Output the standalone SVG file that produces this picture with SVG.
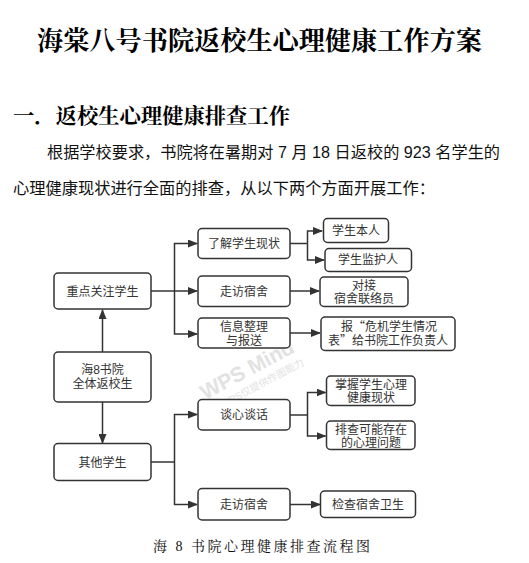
<svg xmlns="http://www.w3.org/2000/svg" width="529" height="563" viewBox="0 0 529 563">
<style>
.title{font-family:"Liberation Serif","Noto Serif CJK SC","Noto Sans CJK SC",serif;font-weight:bold;fill:#000}
.body{font-family:"Liberation Sans","Noto Sans CJK SC",sans-serif;font-size:16px;fill:#111}
.box{fill:#fff;stroke:#333;stroke-width:1.5}
.lbl{font-family:"Liberation Sans","Noto Sans CJK SC",sans-serif;font-size:12px;fill:#333;text-anchor:middle}
.q{font-family:"Noto Sans CJK SC",sans-serif}
.cn{fill:none;stroke:#333;stroke-width:1.5}
.wm{font-family:"Liberation Sans","Noto Sans CJK SC",sans-serif;fill:#e2e2e2}
.cap{font-family:"Liberation Serif","Noto Serif CJK SC","Noto Sans CJK SC",serif;font-size:14px;fill:#111}
</style>
<defs>
<marker id="arr" markerWidth="10" markerHeight="8" refX="9" refY="4" orient="auto" markerUnits="userSpaceOnUse">
<path d="M0,0 L10,4 L0,8 Z" fill="#333"/>
</marker>
</defs>
<rect width="529" height="563" fill="#fff"/>
<text class="title" x="37" y="50" font-size="26" textLength="445" lengthAdjust="spacingAndGlyphs">海棠八号书院返校生心理健康工作方案</text>
<text class="title" x="13" y="123" font-size="21" textLength="277" lengthAdjust="spacingAndGlyphs">一．返校生心理健康排查工作</text>
<text class="body" x="47" y="158" textLength="453" lengthAdjust="spacingAndGlyphs">根据学校要求，书院将在暑期对 7 月 18 日返校的 923 名学生的</text>
<text class="body" x="13" y="194" textLength="422" lengthAdjust="spacingAndGlyphs">心理健康现状进行全面的排查，从以下两个方面开展工作：</text>

<g id="watermark" class="wm">
<text x="205" y="400" font-size="21" font-weight="bold" transform="rotate(-28 205 400)">WPS Mind</text>
<text x="223" y="408" font-size="10" transform="rotate(-28 223 408)">WPS仅提供作图能力</text>
</g>

<g id="connectors">
<path class="cn" d="M102.5,352 V310" marker-end="url(#arr)"/>
<path class="cn" d="M102.5,402 V443" marker-end="url(#arr)"/>
<path class="cn" d="M151,291 H197"  marker-end="url(#arr)"/>
<path class="cn" d="M174.5,291 V243.5 H197" marker-end="url(#arr)"/>
<path class="cn" d="M174.5,291 V334 H197" marker-end="url(#arr)"/>
<path class="cn" d="M290,243.5 H307.5"/>
<path class="cn" d="M307.5,243.5 V231 H322" marker-end="url(#arr)"/>
<path class="cn" d="M307.5,243.5 V260 H324" marker-end="url(#arr)"/>
<path class="cn" d="M290,291 H319" marker-end="url(#arr)"/>
<path class="cn" d="M290,333 H320" marker-end="url(#arr)"/>
<path class="cn" d="M151,462 H174.5"/>
<path class="cn" d="M174.5,462 V414.5 H197" marker-end="url(#arr)"/>
<path class="cn" d="M174.5,462 V504.5 H197" marker-end="url(#arr)"/>
<path class="cn" d="M290,415 H307.5"/>
<path class="cn" d="M307.5,415 V392.5 H325.5" marker-end="url(#arr)"/>
<path class="cn" d="M307.5,415 V436 H325.5" marker-end="url(#arr)"/>
<path class="cn" d="M290,504.5 H320" marker-end="url(#arr)"/>
</g>

<g id="n-all"><rect class="box" x="54" y="352" width="97" height="50" rx="4"/><text class="lbl" x="102.5" y="374">海8书院</text><text class="lbl" x="102.5" y="388">全体返校生</text></g>
<g id="n-focus"><rect class="box" x="54" y="273" width="97" height="36" rx="4"/><text class="lbl" x="102.5" y="296">重点关注学生</text></g>
<g id="n-other"><rect class="box" x="54" y="443.5" width="97" height="37" rx="4"/><text class="lbl" x="102.5" y="467">其他学生</text></g>

<g id="n-know"><rect class="box" x="198" y="228.5" width="92" height="30" rx="4"/><text class="lbl" x="244" y="248">了解学生现状</text></g>
<g id="n-visit1"><rect class="box" x="198" y="276" width="92" height="30.5" rx="4"/><text class="lbl" x="244" y="296">走访宿舍</text></g>
<g id="n-info"><rect class="box" x="198" y="318" width="92" height="30" rx="4"/><text class="lbl" x="244" y="331">信息整理</text><text class="lbl" x="244" y="345">与报送</text></g>
<g id="n-talk"><rect class="box" x="198" y="399.5" width="92" height="30.5" rx="4"/><text class="lbl" x="244" y="419">谈心谈话</text></g>
<g id="n-visit2"><rect class="box" x="198" y="488.5" width="92" height="31.5" rx="4"/><text class="lbl" x="244" y="509">走访宿舍</text></g>

<g id="n-self"><rect class="box" x="323.5" y="218.5" width="65" height="24" rx="4"/><text class="lbl" x="356" y="235">学生本人</text></g>
<g id="n-guard"><rect class="box" x="325" y="248.5" width="86.5" height="23" rx="4"/><text class="lbl" x="368" y="264">学生监护人</text></g>
<g id="n-dorm"><rect class="box" x="320" y="277" width="88" height="29.5" rx="4"/><text class="lbl" x="364" y="290">对接</text><text class="lbl" x="364" y="303">宿舍联络员</text></g>
<g id="n-report"><rect class="box" x="321" y="317" width="134" height="33.5" rx="4"/><text class="lbl" x="389" y="331">报<tspan class="q">“</tspan>危机学生情况</text><text class="lbl" x="388" y="345">表<tspan class="q">”</tspan>给书院工作负责人</text></g>
<g id="n-grasp"><rect class="box" x="326.5" y="376" width="88.5" height="29.5" rx="4"/><text class="lbl" x="371" y="389">掌握学生心理</text><text class="lbl" x="371" y="402">健康现状</text></g>
<g id="n-check"><rect class="box" x="326.5" y="421" width="88.5" height="28.5" rx="4"/><text class="lbl" x="371" y="434">排查可能存在</text><text class="lbl" x="371" y="447">的心理问题</text></g>
<g id="n-hygiene"><rect class="box" x="320.5" y="491" width="95" height="26.5" rx="4"/><text class="lbl" x="368" y="509">检查宿舍卫生</text></g>

<text class="cap" x="153" y="551" textLength="217" lengthAdjust="spacing">海 8 书院心理健康排查流程图</text>
</svg>
